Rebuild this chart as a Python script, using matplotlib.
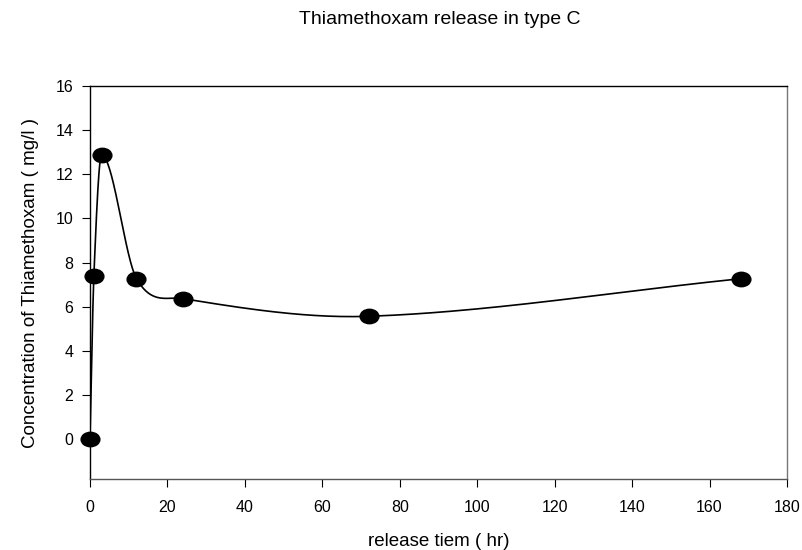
import numpy as np
import matplotlib
matplotlib.use("Agg")
import matplotlib.pyplot as plt
from matplotlib.path import Path
from matplotlib.transforms import Affine2D

plt.rcParams['font.family'] = ['Liberation Sans', 'DejaVu Sans']

time_hr = [0, 1, 3, 12, 24, 72, 168]
conc = [0.0, 7.4, 12.88, 7.28, 6.37, 5.57, 7.27]
x_ticks = [0, 20, 40, 60, 80, 100, 120, 140, 160, 180]
y_ticks = [0, 2, 4, 6, 8, 10, 12, 14, 16]


def cardinal_spline(x, y, num=60):
    """Cubic Hermite spline with finite-difference (Catmull-Rom type) tangents."""
    x = np.asarray(x, float)
    y = np.asarray(y, float)
    n = len(x)
    m = np.empty(n)
    m[0] = (y[1] - y[0]) / (x[1] - x[0])
    m[-1] = (y[-1] - y[-2]) / (x[-1] - x[-2])
    for i in range(1, n - 1):
        m[i] = (y[i + 1] - y[i - 1]) / (x[i + 1] - x[i - 1])
    xs_all, ys_all = [], []
    for i in range(n - 1):
        h = x[i + 1] - x[i]
        t = np.linspace(0, 1, num)
        h00 = 2 * t**3 - 3 * t**2 + 1
        h10 = t**3 - 2 * t**2 + t
        h01 = -2 * t**3 + 3 * t**2
        h11 = t**3 - t**2
        xs_all.append(x[i] + t * h)
        ys_all.append(h00 * y[i] + h10 * h * m[i] + h01 * y[i + 1] + h11 * h * m[i + 1])
    return np.concatenate(xs_all), np.concatenate(ys_all)


fig = plt.figure(figsize=(8.03, 5.5), dpi=100)
ax = fig.add_axes([90 / 803, 1 - 479 / 550, (787 - 90) / 803, (479 - 86) / 550])

xs, ys = cardinal_spline(time_hr, conc)
ax.plot(xs, ys, color='black', lw=1.2, zorder=2)

ell = Path.unit_circle().transformed(Affine2D().scale(1.3, 1.0))
ax.plot(time_hr, conc, linestyle='none', marker=ell, ms=13.5, color='black',
        zorder=3, clip_on=False)

ax.set_xlim(0, 180)
ax.set_ylim(-1.8, 16)
ax.set_xticks(x_ticks)
ax.set_yticks(y_ticks)
ax.tick_params(direction='out', length=6, width=0.8, labelsize=11.5)
ax.tick_params(axis='x', pad=9)
ax.tick_params(axis='y', pad=6)
for s in ax.spines.values():
    s.set_linewidth(1.0)
ax.spines['right'].set_color('#777777')
ax.spines['bottom'].set_color('#555555')

ax.set_xlabel('release tiem ( hr)', fontsize=13.5, labelpad=13)
ax.set_ylabel('Concentration of Thiamethoxam ( mg/l )', fontsize=13.5, labelpad=12)
fig.text(0.548, 1 - 20 / 550, 'Thiamethoxam release in type C', fontsize=14,
         ha='center', va='center')

fig.savefig('out.png', dpi=100)
